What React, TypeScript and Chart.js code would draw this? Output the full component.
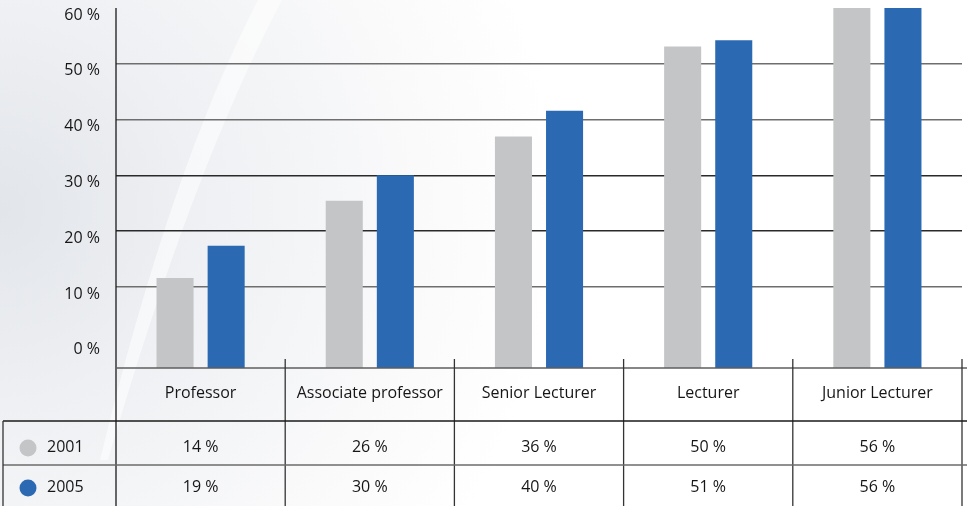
import React, { useEffect, useRef } from "react";
import { Chart, registerables } from "chart.js";

Chart.register(...registerables);

const categories = ["Professor", "Associate professor", "Senior Lecturer", "Lecturer", "Junior Lecturer"];
const years = ["2001", "2005"];
const values2001 = [14, 26, 36, 50, 56];
const values2005 = [19, 30, 40, 51, 56];
const axisTickValues = [0, 10, 20, 30, 40, 50, 60];
const gridTickValues = [10, 20, 30, 40, 50];

const FONT = '"Open Sans", "Noto Sans", sans-serif';
const GRAY = "#c4c5c7";
const BLUE = "#2b6ab3";
const TEXT = "#161616";

const gridColor = (v: number) => {
  if (!gridTickValues.includes(v)) return "rgba(0,0,0,0)";
  return v === 20 || v === 30 ? "#2a2a2a" : "#6e6e6e";
};

const bgPlugin = {
  id: "bg",
  beforeDraw(chart: any) {
    const { ctx, width, height } = chart;
    ctx.save();
    ctx.fillStyle = "#ffffff";
    ctx.fillRect(0, 0, width, height);
    const g = ctx.createRadialGradient(0, 210, 0, 0, 210, 560);
    g.addColorStop(0, "#e2e5ea");
    g.addColorStop(0.35, "#eef0f3");
    g.addColorStop(0.75, "#fafafb");
    g.addColorStop(1, "#ffffff");
    ctx.fillStyle = g;
    ctx.fillRect(0, 0, width, height);
    ctx.beginPath();
    ctx.moveTo(258, 0);
    ctx.quadraticCurveTo(170, 170, 100, 460);
    ctx.lineTo(108, 460);
    ctx.quadraticCurveTo(192, 170, 282, 0);
    ctx.closePath();
    ctx.fillStyle = "rgba(255,255,255,0.55)";
    ctx.fill();
    ctx.restore();
  },
};

const tablePlugin = {
  id: "table",
  afterDraw(chart: any) {
    const { ctx, chartArea: ca, scales } = chart;
    const xs = scales.x;
    const W = chart.width;
    const H = chart.height;
    const colW = (ca.right - ca.left) / categories.length;
    const headerBottom = ca.bottom + 53;
    const rowBottom = ca.bottom + 97;
    const line = (x1: number, y1: number, x2: number, y2: number, color: string, w: number) => {
      ctx.beginPath();
      ctx.strokeStyle = color;
      ctx.lineWidth = w;
      ctx.moveTo(x1, y1);
      ctx.lineTo(x2, y2);
      ctx.stroke();
    };
    ctx.save();
    line(ca.left, ca.top, ca.left, H, "#1a1a1a", 1.3);
    line(ca.left, ca.bottom, W, ca.bottom, "#5e5e5e", 1.5);
    categories.forEach((_, i) => {
      const c = xs.getPixelForValue(i);
      line(c + colW / 2, ca.bottom - 9, c + colW / 2, H, "#333333", 1.3);
    });
    line(3, headerBottom, W, headerBottom, "#1a1a1a", 1.3);
    line(3, rowBottom, W, rowBottom, "#6b6b6b", 1.5);
    line(3, headerBottom, 3, H, "#333333", 1.3);

    const rows = [
      { label: years[0], color: GRAY, vals: values2001, y: headerBottom + 26 },
      { label: years[1], color: BLUE, vals: values2005, y: rowBottom + 22 },
    ];
    ctx.font = `16px ${FONT}`;
    ctx.textBaseline = "middle";
    rows.forEach((r) => {
      ctx.beginPath();
      ctx.fillStyle = r.color;
      ctx.arc(28, r.y + 1, 8.5, 0, Math.PI * 2);
      ctx.fill();
      ctx.fillStyle = TEXT;
      ctx.textAlign = "left";
      ctx.fillText(r.label, 47, r.y);
      ctx.textAlign = "center";
      r.vals.forEach((v, i) => {
        ctx.fillText(`${v} %`, xs.getPixelForValue(i), r.y);
      });
    });
    ctx.restore();
  },
};

export default function App() {
  const ref = useRef<HTMLCanvasElement>(null);
  useEffect(() => {
    if (!ref.current) return;
    const chart = new Chart(ref.current, {
      type: "bar",
      data: {
        labels: categories,
        datasets: [
          { label: years[0], data: values2001, backgroundColor: GRAY, yAxisID: "y" },
          { label: years[1], data: values2005, backgroundColor: BLUE, yAxisID: "y" },
        ],
      },
      options: {
        responsive: false,
        animation: false,
        events: [],
        layout: { padding: { left: 8, right: 5, top: 8, bottom: 0 } },
        datasets: { bar: { categoryPercentage: 0.604, barPercentage: 0.725 } },
        plugins: { legend: { display: false }, tooltip: { enabled: false } },
        scales: {
          x: {
            position: "bottom",
            grid: { display: false },
            border: { display: false },
            ticks: { color: TEXT, font: { family: FONT, size: 16 }, padding: 8, maxRotation: 0, autoSkip: false },
            afterFit: (s: any) => {
              s.height = 138;
              s.paddingLeft = 0;
              s.paddingRight = 0;
            },
          },
          y: { display: false, min: 0, max: 56 },
          y2: {
            type: "linear",
            position: "left",
            min: -4.52,
            max: 60,
            afterBuildTicks: (s: any) => {
              s.ticks = axisTickValues.map((v) => ({ value: v }));
            },
            ticks: {
              color: TEXT,
              font: { family: FONT, size: 16 },
              padding: 16,
              labelOffset: 7,
              autoSkip: false,
              callback: (v: any) => `${v} %`,
            },
            grid: {
              drawTicks: false,
              lineWidth: 1.4,
              color: (c: any) => (c.tick ? gridColor(c.tick.value) : "rgba(0,0,0,0)"),
            },
            border: { display: false },
            afterFit: (s: any) => {
              s.width = 108;
              s.paddingTop = 0;
              s.paddingBottom = 0;
            },
          },
        },
      } as any,
      plugins: [bgPlugin, tablePlugin],
    });
    return () => chart.destroy();
  }, []);
  return (
    <div style={{ position: "fixed", left: 0, top: 0, width: 967, height: 506 }}>
      <canvas ref={ref} width={967} height={506} style={{ display: "block" }} />
    </div>
  );
}
